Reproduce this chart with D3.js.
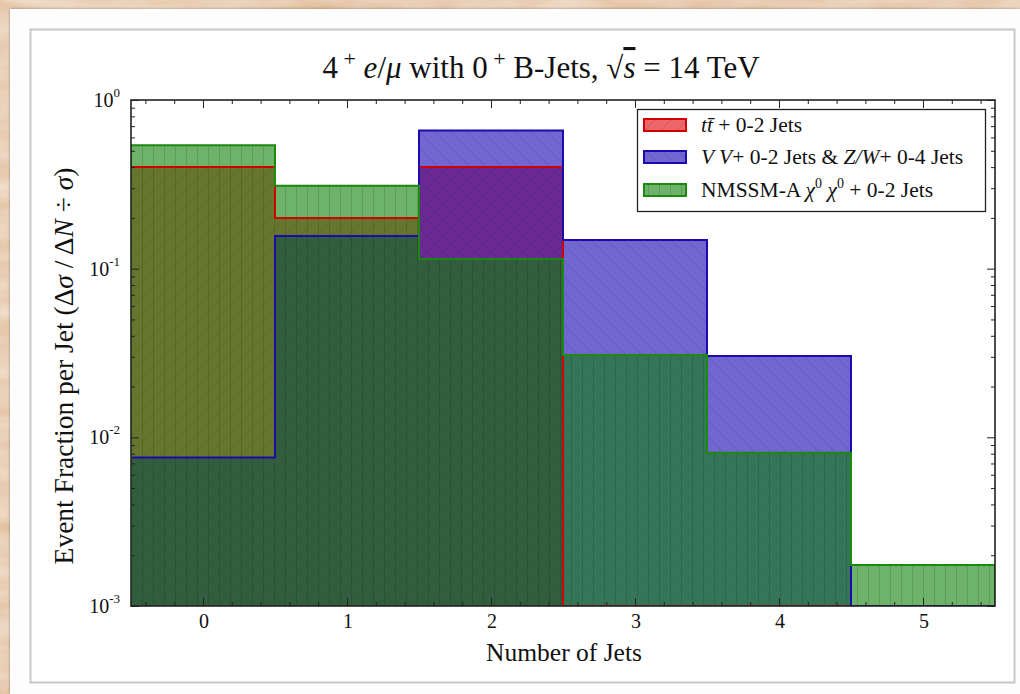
<!DOCTYPE html>
<html>
<head>
<meta charset="utf-8">
<script src="https://cdn.jsdelivr.net/npm/d3@7"></script>
<style>
  html, body { margin: 0; padding: 0; background: #e2c19c; }
  svg { display: block; }
  text { font-family: "Liberation Serif", "DejaVu Serif", serif; fill: #111; }
</style>
</head>
<body>
<svg id="chart" width="1020" height="694"></svg>
<script>
// ---------------- data ----------------
const jetBins = [0, 1, 2, 3, 4, 5];
const ttbarValues = [0.40, 0.20, 0.40, 0, 0, 0];
const vvValues = [0.0076, 0.156, 0.66, 0.148, 0.0304, 0];
const nmssmValues = [0.54, 0.31, 0.114, 0.0308, 0.0081, 0.00175];
const xTickLabels = ["0", "1", "2", "3", "4", "5"];
const yDecadeExponents = [0, -1, -2, -3];

// ---------------- setup ----------------
const W = 1020, H = 694;
const svg = d3.select("#chart");
const defs = svg.append("defs");

// parchment background
const turb = defs.append("filter").attr("id", "paper").attr("x", 0).attr("y", 0).attr("width", "100%").attr("height", "100%");
turb.append("feTurbulence").attr("type", "fractalNoise").attr("baseFrequency", "0.012 0.05").attr("numOctaves", 4).attr("seed", 7).attr("result", "n");
turb.append("feColorMatrix").attr("in", "n").attr("type", "matrix")
  .attr("values", "0 0 0 0 0.98  0 0 0 0 0.90  0 0 0 0 0.82  0 0 0 0.7 0").attr("result", "c");
turb.append("feComposite").attr("in", "c").attr("in2", "SourceGraphic").attr("operator", "over");
svg.append("rect").attr("width", W).attr("height", H).attr("fill", "#dfba94").attr("filter", "url(#paper)");

// panel shadow filter
const sh = defs.append("filter").attr("id", "shadow").attr("x", "-5%").attr("y", "-5%").attr("width", "110%").attr("height", "110%");
sh.append("feDropShadow").attr("dx", 0).attr("dy", 0).attr("stdDeviation", 1.5).attr("flood-color", "#000").attr("flood-opacity", 0.35);

// outer white panel
svg.append("rect").attr("x", 10).attr("y", 9).attr("width", W - 10).attr("height", H - 9)
  .attr("fill", "#fdfdfd").attr("filter", "url(#shadow)");
// inner bordered panel
svg.append("rect").attr("x", 30.5).attr("y", 29.5).attr("width", 984).attr("height", 653)
  .attr("fill", "#ffffff").attr("stroke", "#c8c8c8").attr("stroke-width", 2);

// hatch patterns
function hatch(id, kind, size) {
  const p = defs.append("pattern").attr("id", id).attr("patternUnits", "userSpaceOnUse")
    .attr("x", 131).attr("y", 100).attr("width", size).attr("height", size);
  const st = "rgba(0,0,0,0.13)";
  if (kind === "vertical") {
    p.append("line").attr("x1", 0.5).attr("y1", 0).attr("x2", 0.5).attr("y2", size).attr("stroke", st).attr("stroke-width", 1);
  } else if (kind === "slash") {
    p.append("path").attr("d", `M0,${size} L${size},0 M${-size/2},${size/2} L${size/2},${-size/2} M${size/2},${size*1.5} L${size*1.5},${size/2}`)
      .attr("stroke", st).attr("stroke-width", 1);
  } else {
    p.append("path").attr("d", `M0,0 L${size},${size} M${-size/2},${size/2} L${size/2},${size*1.5} M${size/2},${-size/2} L${size*1.5},${size/2}`)
      .attr("stroke", st).attr("stroke-width", 1);
  }
}
hatch("hRed", "slash", 16);
hatch("hBlue", "backslash", 16);
hatch("hGreen", "vertical", 11);

// scales
const x = d3.scaleLinear().domain([-0.5, 5.5]).range([131, 995]);
const y = d3.scaleLog().domain([1e-3, 1]).range([606, 100]);
const yBottom = y.range()[0];

const series = [
  { name: "ttbar", values: ttbarValues, fill: "rgb(225,0,5)", stroke: "#d00000", pat: "hRed" },
  { name: "vv", values: vvValues, fill: "rgb(20,0,177)", stroke: "#1a0ab0", pat: "hBlue" },
  { name: "nmssm", values: nmssmValues, fill: "rgb(12,128,7)", stroke: "#1c8a0e", pat: "hGreen" }
];

const plot = svg.append("g");
const clip = defs.append("clipPath").attr("id", "plotclip");
clip.append("rect").attr("x", 131).attr("y", 100).attr("width", 864).attr("height", 506);
plot.attr("clip-path", "url(#plotclip)");

// fills
series.forEach(s => {
  const data = jetBins.map((b, i) => ({ b, v: s.values[i] })).filter(d => d.v > 0);
  const g = plot.append("g");
  g.selectAll("rect.f").data(data).join("rect").attr("class", "f")
    .attr("x", d => x(d.b - 0.5)).attr("width", d => x(d.b + 0.5) - x(d.b - 0.5))
    .attr("y", d => y(d.v)).attr("height", d => yBottom - y(d.v))
    .attr("fill", s.fill).attr("fill-opacity", 0.6).attr("shape-rendering", "crispEdges");
  g.selectAll("rect.h").data(data).join("rect").attr("class", "h")
    .attr("x", d => x(d.b - 0.5)).attr("width", d => x(d.b + 0.5) - x(d.b - 0.5))
    .attr("y", d => y(d.v)).attr("height", d => yBottom - y(d.v))
    .attr("fill", `url(#${s.pat})`).attr("shape-rendering", "crispEdges");
});

// step outlines
series.forEach(s => {
  const lvl = v => v > 0 ? y(v) : yBottom;
  let d = `M${x(jetBins[0] - 0.5)},${yBottom}`;
  jetBins.forEach((b, i) => {
    d += ` L${x(b - 0.5)},${lvl(s.values[i])} L${x(b + 0.5)},${lvl(s.values[i])}`;
  });
  d += ` L${x(jetBins[jetBins.length - 1] + 0.5)},${yBottom}`;
  plot.append("path").attr("d", d).attr("fill", "none").attr("stroke", s.stroke)
    .attr("stroke-width", 2).attr("stroke-linejoin", "miter");
});

// axes frame & ticks
const axes = svg.append("g");
const majorX = jetBins;
const minorX = d3.range(-0.4, 5.5, 0.2).map(v => +v.toFixed(2)).filter(v => Math.abs(v - Math.round(v)) > 1e-6);
const majorY = yDecadeExponents.map(e => Math.pow(10, e));
const minorY = [];
[-3, -2, -1].forEach(e => { for (let k = 2; k <= 9; k++) minorY.push(k * Math.pow(10, e)); });

function addAxis(gen, transform, vals, size) {
  axes.append("g").attr("transform", transform)
    .call(gen.tickValues(vals).tickSizeInner(size).tickSizeOuter(0).tickFormat(""))
    .call(g => g.select(".domain").remove())
    .call(g => g.selectAll("line").attr("stroke", "#222").attr("stroke-width", 1));
}
addAxis(d3.axisBottom(x), `translate(0,${yBottom})`, majorX, -8);
addAxis(d3.axisBottom(x), `translate(0,${yBottom})`, minorX, -4);
addAxis(d3.axisTop(x), `translate(0,100)`, majorX, -8);
addAxis(d3.axisTop(x), `translate(0,100)`, minorX, -4);
addAxis(d3.axisLeft(y), `translate(131,0)`, majorY, -8);
addAxis(d3.axisLeft(y), `translate(131,0)`, minorY, -4);
addAxis(d3.axisRight(y), `translate(995,0)`, majorY, -8);
addAxis(d3.axisRight(y), `translate(995,0)`, minorY, -4);

axes.append("rect").attr("x", 131).attr("y", 100).attr("width", 864).attr("height", 506)
  .attr("fill", "none").attr("stroke", "#222").attr("stroke-width", 1.6);

// x tick labels
axes.selectAll("text.xt").data(jetBins).join("text").attr("class", "xt")
  .attr("x", d => x(d) + 1).attr("y", 628).attr("text-anchor", "middle")
  .attr("font-size", 20).text((d, i) => xTickLabels[i]);

// y tick labels
yDecadeExponents.forEach(e => {
  const t = axes.append("text").attr("x", 120).attr("y", y(Math.pow(10, e)) + 7)
    .attr("text-anchor", "end").attr("font-size", 20);
  t.append("tspan").text("10");
  t.append("tspan").attr("font-size", 13).attr("dy", -10).text(String(e));
});

// axis titles
svg.append("text").attr("x", 564).attr("y", 661).attr("text-anchor", "middle")
  .attr("font-size", 25.5).text("Number of Jets");

const yl = svg.append("text").attr("transform", "translate(73,366) rotate(-90)")
  .attr("text-anchor", "middle").attr("font-size", 27.5);
yl.append("tspan").text("Event Fraction per Jet (Δ");
yl.append("tspan").attr("font-style", "italic").text("σ");
yl.append("tspan").text(" / Δ");
yl.append("tspan").attr("font-style", "italic").text("N");
yl.append("tspan").text(" ÷ ");
yl.append("tspan").attr("font-style", "italic").text("σ");
yl.append("tspan").text(")");

// title
const tt = svg.append("text").attr("x", 541).attr("y", 78).attr("text-anchor", "middle").attr("font-size", 31);
tt.append("tspan").text("4");
tt.append("tspan").attr("font-size", 22).attr("dy", -12).text(" +");
tt.append("tspan").attr("dy", 12).text(" ");
tt.append("tspan").attr("font-style", "italic").text("e");
tt.append("tspan").text("/");
tt.append("tspan").attr("font-style", "italic").text("μ");
tt.append("tspan").text(" with 0");
tt.append("tspan").attr("font-size", 22).attr("dy", -12).text(" +");
tt.append("tspan").attr("dy", 12).text("  B-Jets, √");
tt.append("tspan").attr("font-style", "italic").attr("text-decoration", "overline").text("s");
tt.append("tspan").text(" = 14 TeV");

// legend
const lg = svg.append("g");
lg.append("rect").attr("x", 637.5).attr("y", 109.5).attr("width", 348).attr("height", 102)
  .attr("fill", "#fff").attr("stroke", "#222").attr("stroke-width", 1.3);
const legendRows = [125, 157, 190];
series.forEach((s, i) => {
  const cy = legendRows[i];
  lg.append("rect").attr("x", 644).attr("y", cy - 6).attr("width", 42).attr("height", 12)
    .attr("fill", s.fill).attr("fill-opacity", 0.6).attr("stroke", s.stroke).attr("stroke-width", 2);
  lg.append("rect").attr("x", 644).attr("y", cy - 6).attr("width", 42).attr("height", 12)
    .attr("fill", `url(#${s.pat})`);
});
const fs = 21.5;
const l1 = lg.append("text").attr("x", 701).attr("y", legendRows[0] + 7).attr("font-size", fs);
l1.append("tspan").attr("font-style", "italic").text("tt\u0304");
l1.append("tspan").text(" + 0-2 Jets");
const l2 = lg.append("text").attr("x", 701).attr("y", legendRows[1] + 7).attr("font-size", fs);
l2.append("tspan").attr("font-style", "italic").text("V V");
l2.append("tspan").text("+ 0-2 Jets & ");
l2.append("tspan").attr("font-style", "italic").text("Z/W");
l2.append("tspan").text("+ 0-4 Jets");
const l3 = lg.append("text").attr("x", 701).attr("y", legendRows[2] + 7).attr("font-size", fs);
l3.append("tspan").text("NMSSM-A ");
l3.append("tspan").attr("font-style", "italic").text("χ");
l3.append("tspan").attr("font-size", 14).attr("dy", -9).text("0");
l3.append("tspan").attr("dy", 9).text(" ");
l3.append("tspan").attr("font-style", "italic").text("χ");
l3.append("tspan").attr("font-size", 14).attr("dy", -9).text("0");
l3.append("tspan").attr("dy", 9).text("  + 0-2 Jets");
</script>
</body>
</html>
